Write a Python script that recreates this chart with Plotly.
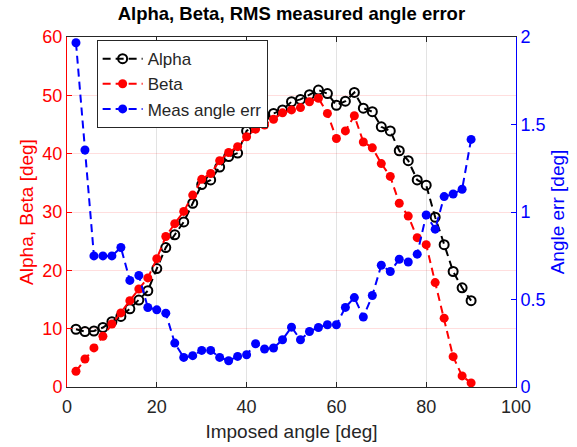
import plotly.graph_objects as go

imposed_angle = [2, 4, 6, 8, 10, 12, 14, 16, 18, 20, 22, 24, 26, 28, 30, 32, 34, 36, 38, 40,
                 42, 44, 46, 48, 50, 52, 54, 56, 58, 60, 62, 64, 66, 68, 70, 72, 74, 76, 78, 80,
                 82, 84, 86, 88, 90]

alpha = [9.9, 9.5, 9.6, 10.2, 11.2, 12.1, 13.4, 14.9, 16.5, 20.3, 23.9, 26.1, 28.3, 31.5, 34.7,
         35.5, 37.7, 39.5, 40.1, 43.9, 45.0, 46.5, 46.9, 47.5, 48.9, 49.3, 50.1, 50.9, 50.3, 48.3,
         49.0, 50.5, 47.8, 47.2, 44.6, 43.9, 40.5, 38.8, 35.5, 34.6, 29.1, 24.4, 19.8, 17.0, 14.8]

beta = [2.7, 4.8, 6.7, 8.7, 10.8, 12.7, 14.8, 16.8, 18.7, 22.0, 25.8, 28.0, 30.1, 32.9, 35.6,
        36.6, 38.8, 40.2, 41.2, 42.9, 44.2, 44.9, 45.9, 47.0, 47.5, 47.9, 48.9, 49.5, 46.9, 42.6,
        43.9, 46.5, 42.0, 41.0, 38.3, 36.1, 31.5, 29.3, 25.6, 24.4, 17.9, 11.8, 5.2, 1.9, 0.7]

meas_err = [1.967, 1.354, 0.749, 0.749, 0.749, 0.797, 0.609, 0.637, 0.454, 0.441, 0.422, 0.251,
            0.169, 0.179, 0.209, 0.209, 0.169, 0.150, 0.175, 0.184, 0.247, 0.217, 0.223, 0.270,
            0.342, 0.270, 0.317, 0.340, 0.356, 0.356, 0.455, 0.511, 0.400, 0.523, 0.696, 0.660,
            0.730, 0.714, 0.759, 0.983, 0.902, 1.088, 1.103, 1.130, 1.415]

x_ticks = [0, 20, 40, 60, 80, 100]
left_ticks = [0, 10, 20, 30, 40, 50, 60]
right_ticks = [0, 0.5, 1, 1.5, 2]
right_tick_text = ["0", "0.5", "1", "1.5", "2"]

FONT = "Liberation Sans, Arial, Helvetica, sans-serif"
DARK = "#262626"
RED = "#ff0000"
BLUE = "#0000ff"
DASH = "8px,5px"

fig = go.Figure()

fig.add_trace(go.Scatter(
    x=imposed_angle, y=alpha, name="Alpha", mode="lines+markers", legendrank=1,
    line=dict(color="black", width=2, dash=DASH),
    marker=dict(symbol="circle-open", size=9, color="black", line=dict(width=2, color="black")),
))
fig.add_trace(go.Scatter(
    x=imposed_angle, y=beta, name="Beta", mode="lines+markers", legendrank=2,
    line=dict(color=RED, width=2, dash=DASH),
    marker=dict(symbol="circle", size=9, color=RED),
))
fig.add_trace(go.Scatter(
    x=imposed_angle, y=meas_err, name="Meas angle err", mode="lines+markers", legendrank=3,
    yaxis="y2",
    line=dict(color=BLUE, width=2, dash=DASH),
    marker=dict(symbol="circle", size=9, color=BLUE),
))

fig.update_layout(
    width=577, height=447,
    margin=dict(l=67, r=61, t=37, b=60),
    paper_bgcolor="white", plot_bgcolor="white",
    font=dict(family=FONT, size=18, color=DARK),
    title=dict(text="<b>Alpha, Beta, RMS measured angle error</b>", x=0.505, xanchor="center",
               y=1 - 14 / 447, yanchor="middle", yref="container",
               font=dict(size=18.5, color="black", family=FONT)),
    showlegend=True,
    legend=dict(x=0.066, y=0.991, xanchor="left", yanchor="top",
                bgcolor="white", bordercolor=DARK, borderwidth=1,
                font=dict(size=17, color=DARK, family=FONT),
                tracegroupgap=0, itemwidth=40),
    xaxis=dict(range=[0, 100], tickmode="array", tickvals=x_ticks, automargin=False,
               ticks="inside", ticklen=5, tickcolor=DARK, tickwidth=1,
               showline=True, linecolor=DARK, linewidth=1, mirror="ticks",
               showgrid=True, gridcolor="#e3e3e3", gridwidth=1, zeroline=False,
               tickfont=dict(size=18, color=DARK), ticklabelstandoff=3,
               title=dict(text="Imposed angle [deg]", font=dict(size=19, color=DARK), standoff=9)),
    yaxis=dict(range=[0, 60], tickmode="array", tickvals=left_ticks, automargin=False,
               ticks="inside", ticklen=5, tickcolor=RED, tickwidth=1,
               showline=True, linecolor=RED, linewidth=1,
               showgrid=True, gridcolor="rgba(255,0,0,0.13)", gridwidth=1, zeroline=False,
               tickfont=dict(size=18, color=RED),
               title=dict(text="Alpha, Beta [deg]", font=dict(size=19, color=RED), standoff=3)),
    yaxis2=dict(range=[0, 2], tickmode="array", tickvals=right_ticks, ticktext=right_tick_text,
                overlaying="y", side="right", automargin=False,
                ticks="inside", ticklen=5, tickcolor=BLUE, tickwidth=1,
                showline=True, linecolor=BLUE, linewidth=1,
                showgrid=False, zeroline=False,
                tickfont=dict(size=18, color=BLUE),
                title=dict(text="Angle err [deg]", font=dict(size=19, color=BLUE), standoff=6)),
)

fig.write_html("out.html")
